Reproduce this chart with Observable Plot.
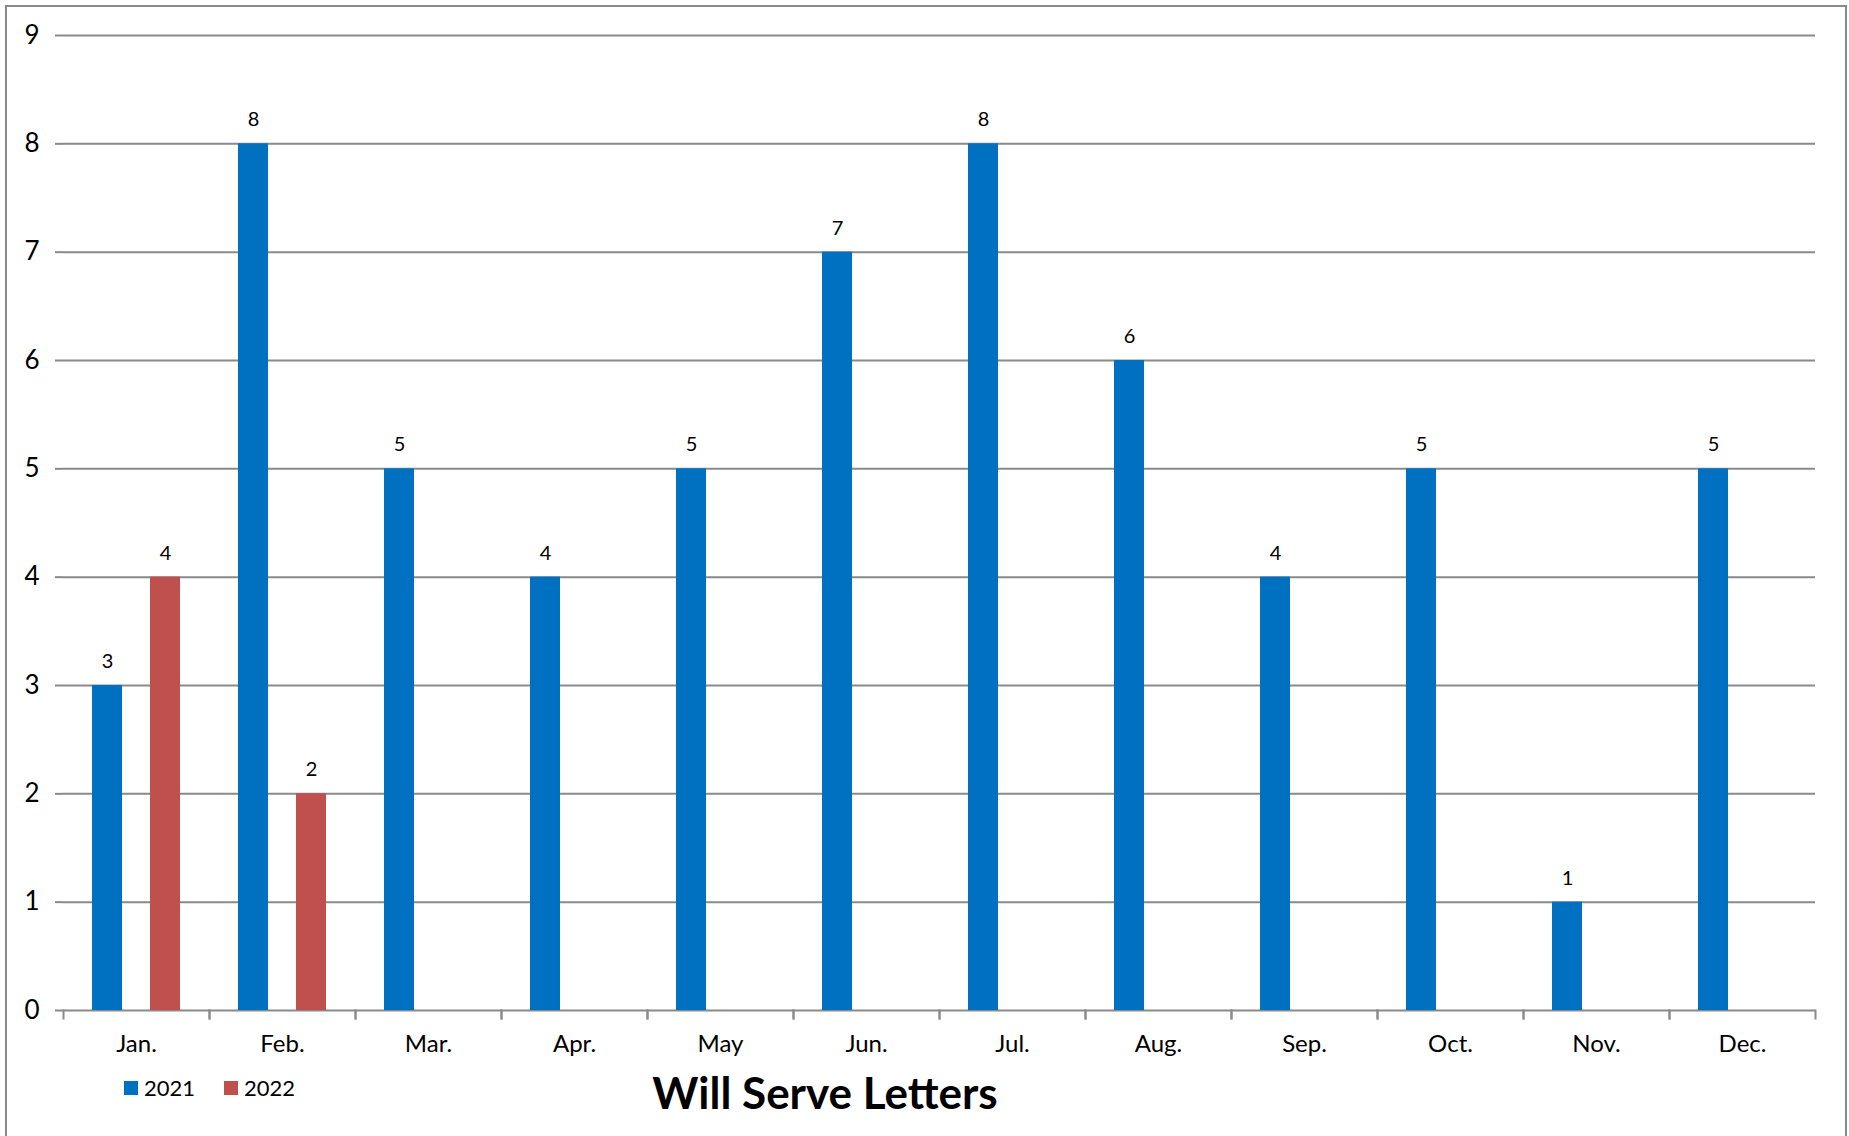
<!DOCTYPE html>
<html>
<head>
<meta charset="utf-8">
<script src="https://cdn.jsdelivr.net/npm/d3@7"></script>
<script src="https://cdn.jsdelivr.net/npm/@observablehq/plot@0.6"></script>
<style>
  html, body { margin: 0; padding: 0; background: #fff; width: 1849px; height: 1136px; overflow: hidden; font-family: Lato, sans-serif; }
  #border { position: absolute; left: 5px; top: 5px; width: 1842px; height: 1150px; border: 2px solid #8a8a8a; box-sizing: border-box; }
  #chart { position: absolute; left: 0; top: 0; }
  #legend { position: absolute; left: 124px; top: 1077px; font-size: 22px; line-height: 22px; color: #000; display: flex; }
  #legend .item { display: flex; align-items: center; margin-right: 29px; }
  #legend .sw { width: 14px; height: 14px; margin-right: 6px; }
  #title { position: absolute; left: 425px; width: 800px; top: 1070px; text-align: center; font-size: 44px; line-height: 44px; font-weight: bold; color: #000; }
</style>
</head>
<body>
<div id="border"></div>
<div id="chart"></div>
<div id="legend"></div>
<div id="title">Will Serve Letters</div>
<script>
const months = ["Jan.", "Feb.", "Mar.", "Apr.", "May", "Jun.", "Jul.", "Aug.", "Sep.", "Oct.", "Nov.", "Dec."];
const years = ["2021", "2022"];
const values2021 = [3, 8, 5, 4, 5, 7, 8, 6, 4, 5, 1, 5];
const values2022 = [4, 2];
const yTicks = [0, 1, 2, 3, 4, 5, 6, 7, 8, 9];
const colors = ["#0070C0", "#C0504D"];

const data = [
  ...values2021.map((v, i) => ({month: months[i], year: years[0], value: v})),
  ...values2022.map((v, i) => ({month: months[i], year: years[1], value: v}))
];

const W = 1849, H = 1069, mT = 35, mB = 59, mL = 60, mR = 31;
const plotH = H - mT - mB;
const grey = "#8a8a8a";

const chart = Plot.plot({
  width: W, height: H,
  marginTop: mT, marginBottom: mB, marginLeft: mL, marginRight: mR,
  style: {fontFamily: "Lato, sans-serif", fontSize: "22px", color: "#000", background: "transparent"},
  fx: {domain: months, padding: 0, label: null},
  x: {domain: years, paddingInner: 0.49, paddingOuter: 0.5, axis: null},
  y: {domain: [0, 9], label: null},
  color: {domain: years, range: colors},
  marks: [
    Plot.ruleY(yTicks, {stroke: grey, strokeWidth: 2}),
    Plot.frame({anchor: "left", stroke: grey, strokeWidth: 2, insetTop: plotH, insetBottom: -8}),
    Plot.frame({anchor: "right", stroke: grey, strokeWidth: 2, insetTop: plotH, insetBottom: -8}),
    Plot.axisY(yTicks, {tickSize: 8, tickPadding: 16, tickFormat: d3.format("d"), line: true, stroke: grey, strokeWidth: 2, fill: "#000", fontSize: 26, label: null}),
    Plot.axisFx({anchor: "bottom", tickSize: 0, tickPadding: 24, fontSize: 24, label: null, fill: "#000"}),
    Plot.barY(data, {fx: "month", x: "year", y: "value", fill: "year"}),
    Plot.text(data, {fx: "month", x: "year", y: "value", text: d => String(d.value), dy: -24, fontSize: 20, fill: "#000"})
  ]
});
document.getElementById("chart").appendChild(chart);

const legend = document.getElementById("legend");
years.forEach((y, i) => {
  const item = document.createElement("div");
  item.className = "item";
  const sw = document.createElement("span");
  sw.className = "sw";
  sw.style.background = colors[i];
  const t = document.createElement("span");
  t.textContent = y;
  item.appendChild(sw);
  item.appendChild(t);
  legend.appendChild(item);
});
</script>
</body>
</html>
